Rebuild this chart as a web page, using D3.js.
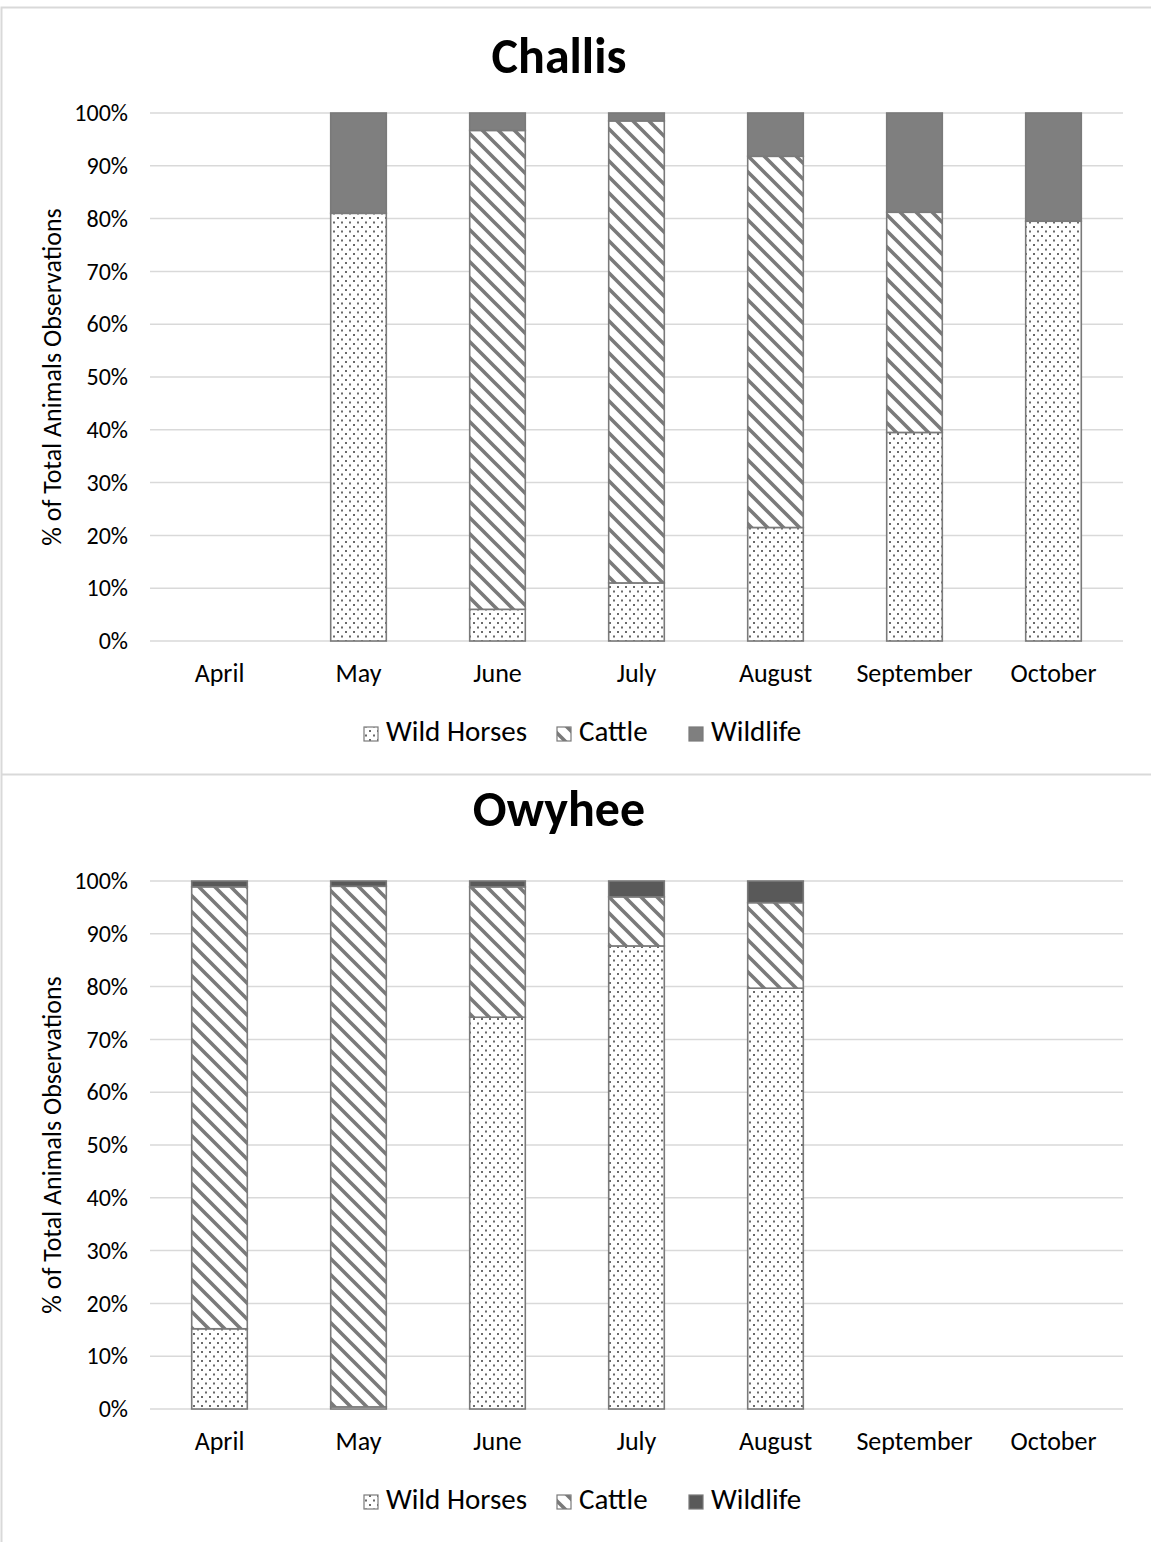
<!DOCTYPE html>
<html>
<head>
<meta charset="utf-8">
<script src="https://cdn.jsdelivr.net/npm/d3@7/dist/d3.min.js"></script>
<style>
  html, body { margin: 0; padding: 0; background: #fff; }
  svg { display: block; font-family: Carlito, Calibri, Lato, "Open Sans", sans-serif; }
</style>
</head>
<body>
<svg id="chart" width="1151" height="1542"></svg>
<script>
// Month categories shared by both panels
const months = ["April", "May", "June", "July", "August", "September", "October"];
const seriesNames = ["Wild Horses", "Cattle", "Wildlife"];
const yTicks = [0, 10, 20, 30, 40, 50, 60, 70, 80, 90, 100];

// Challis: share of observations (%) per month
const challisWildHorses = [0, 81.0, 6.0, 11.0, 21.5, 39.5, 79.5];
const challisCattle     = [0, 0, 90.7, 87.5, 70.3, 41.7, 0];
const challisWildlife   = [0, 19.0, 3.3, 1.5, 8.2, 18.8, 20.5];

// Owyhee: share of observations (%) per month
const owyheeWildHorses = [15.2, 0.4, 74.2, 87.7, 79.7, 0, 0];
const owyheeCattle     = [83.7, 98.6, 24.7, 9.3, 16.2, 0, 0];
const owyheeWildlife   = [1.1, 1.0, 1.1, 3.0, 4.1, 0, 0];

const FONT = "Carlito, Calibri, Lato, 'Open Sans', sans-serif";
const svg = d3.select("#chart");
const defs = svg.append("defs");

// Fine dotted fill for wild horses
const dots = defs.append("pattern").attr("id", "dots")
  .attr("patternUnits", "userSpaceOnUse").attr("width", 8).attr("height", 9);
dots.append("rect").attr("width", 8).attr("height", 9).attr("fill", "#fff");
dots.append("rect").attr("x", 1).attr("y", 1).attr("width", 2).attr("height", 2).attr("fill", "#6a6a6a");
dots.append("rect").attr("x", 5).attr("y", 5.5).attr("width", 2).attr("height", 2).attr("fill", "#6a6a6a");

// Wide downward diagonal stripes for cattle
const hatch = defs.append("pattern").attr("id", "hatch")
  .attr("patternUnits", "userSpaceOnUse").attr("width", 16).attr("height", 16);
hatch.append("rect").attr("width", 16).attr("height", 16).attr("fill", "#fff");
hatch.append("path")
  .attr("d", "M-4,-4 L20,20 M-4,12 L4,20 M12,-4 L20,4")
  .attr("stroke", "#7a7a7a").attr("stroke-width", 3.6);

const gridColor = "#d9d9d9";
const outline = "#7a7a7a";

// Panel frames
svg.append("path")
  .attr("d", "M1.5,1542 L1.5,7.5 L1151,7.5 M1.5,774.5 L1151,774.5")
  .attr("fill", "none").attr("stroke", gridColor).attr("stroke-width", 2);

function drawPanel(cfg) {
  const g = svg.append("g");
  const x = d3.scaleBand().domain(months).range([150, 1123]).paddingInner(0.6).paddingOuter(0.3);
  const y = d3.scaleLinear().domain([0, 100]).range([cfg.bottom, cfg.bottom - 528]);

  // Title
  g.append("text").attr("x", 559).attr("y", cfg.titleY)
    .attr("text-anchor", "middle").attr("font-size", 50).attr("font-weight", "bold")
    .attr("fill", "#000").text(cfg.title);

  // Gridlines
  g.append("g").selectAll("line").data(yTicks).join("line")
    .attr("x1", 150).attr("x2", 1123)
    .attr("y1", d => y(d)).attr("y2", d => y(d))
    .attr("stroke", gridColor).attr("stroke-width", 1.5);

  // Y axis tick labels
  const yAxis = d3.axisLeft(y).tickValues(yTicks).tickFormat(d => d + "%").tickSize(0).tickPadding(0);
  const ya = g.append("g").attr("transform", "translate(128,0)").call(yAxis);
  ya.select(".domain").remove();
  ya.selectAll("text").attr("font-size", 24).attr("fill", "#000").attr("font-family", FONT);

  // X axis category labels
  const xAxis = d3.axisBottom(x).tickSize(0).tickPadding(0);
  const xa = g.append("g").attr("transform", `translate(0,${cfg.bottom + 35})`).call(xAxis);
  xa.select(".domain").remove();
  xa.selectAll("text").attr("font-size", 26).attr("fill", "#000").attr("dy", "0")
    .attr("font-family", FONT).attr("dominant-baseline", "middle");

  // Y axis title
  g.append("text")
    .attr("transform", `translate(61,${cfg.bottom - 264}) rotate(-90)`)
    .attr("text-anchor", "middle").attr("font-size", 26).attr("fill", "#000")
    .text("% of Total Animals Observations");

  // Stacked bars
  const rows = months.map((m, i) => ({
    month: m,
    "Wild Horses": cfg.wildHorses[i],
    "Cattle": cfg.cattle[i],
    "Wildlife": cfg.wildlife[i]
  }));
  const stacked = d3.stack().keys(seriesNames)(rows);
  const fills = {"Wild Horses": "url(#dots)", "Cattle": "url(#hatch)", "Wildlife": cfg.wildlifeColor};

  stacked.forEach(layer => {
    g.append("g").selectAll("rect")
      .data(layer.filter(d => d[1] - d[0] > 0))
      .join("rect")
      .attr("x", d => x(d.data.month))
      .attr("width", x.bandwidth())
      .attr("y", d => y(d[1]))
      .attr("height", d => y(d[0]) - y(d[1]))
      .attr("fill", fills[layer.key])
      .attr("stroke", outline).attr("stroke-width", 1.6);
  });

  // Legend
  const legendItems = [
    {name: "Wild Horses", sx: 364, tx: 386},
    {name: "Cattle", sx: 557, tx: 579},
    {name: "Wildlife", sx: 689, tx: 711}
  ];
  const lg = g.append("g");
  legendItems.forEach(it => {
    lg.append("rect").attr("x", it.sx).attr("y", cfg.legendY - 7)
      .attr("width", 14).attr("height", 14)
      .attr("fill", fills[it.name]).attr("stroke", outline).attr("stroke-width", 1.2);
    lg.append("text").attr("x", it.tx).attr("y", cfg.legendY)
      .attr("dominant-baseline", "middle").attr("font-size", 29).attr("fill", "#000")
      .text(it.name);
  });
}

drawPanel({
  title: "Challis", titleY: 73, bottom: 641, legendY: 734,
  wildHorses: challisWildHorses, cattle: challisCattle, wildlife: challisWildlife,
  wildlifeColor: "#7f7f7f"
});

drawPanel({
  title: "Owyhee", titleY: 826, bottom: 1409, legendY: 1502,
  wildHorses: owyheeWildHorses, cattle: owyheeCattle, wildlife: owyheeWildlife,
  wildlifeColor: "#595959"
});
</script>
</body>
</html>
